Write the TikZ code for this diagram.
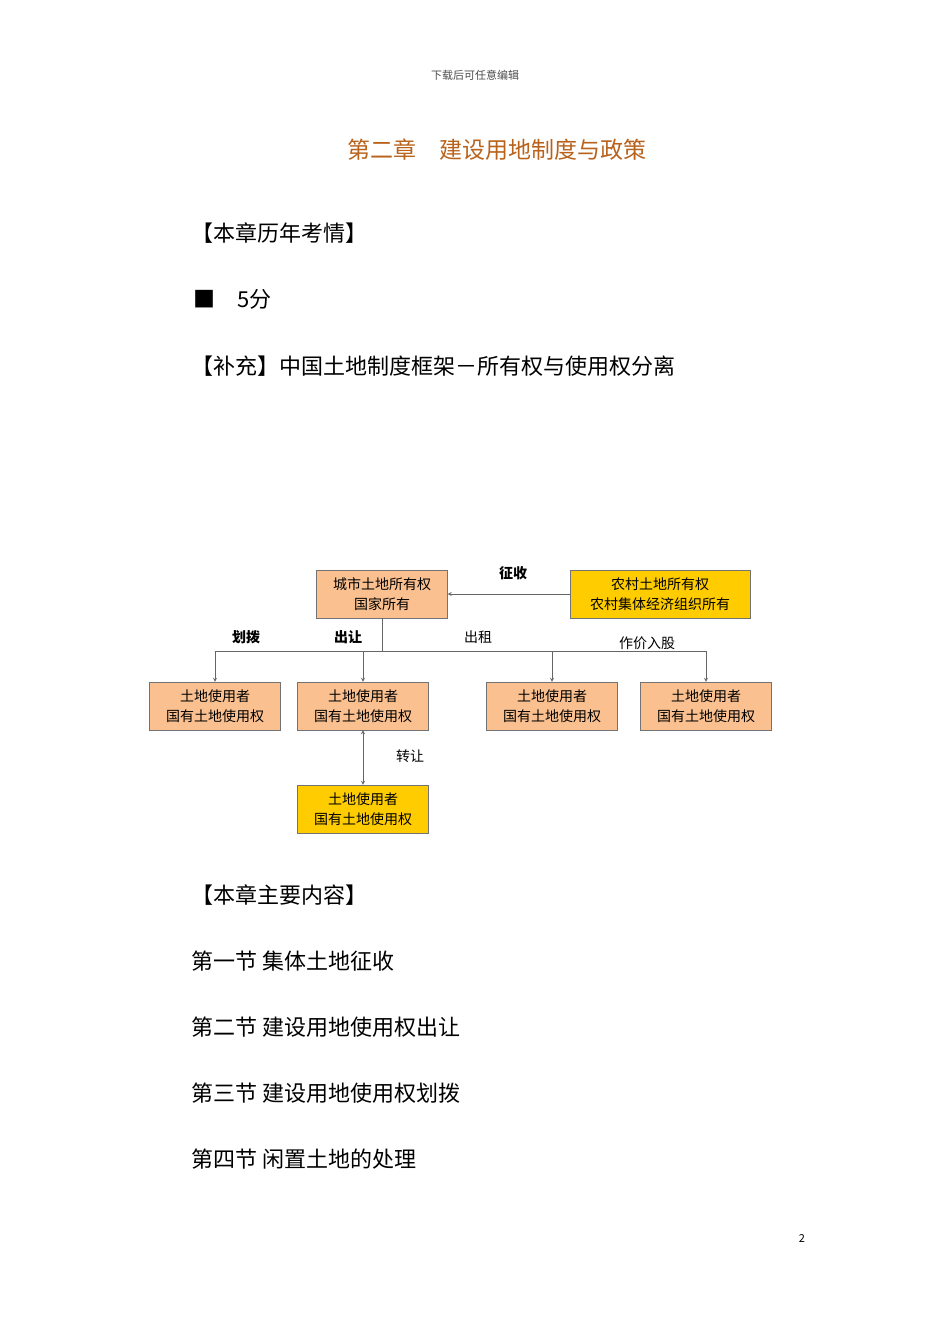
\documentclass[tikz,border=0pt]{standalone}
\usepackage{fontspec}
\setmainfont{Noto Sans CJK SC}
\newfontfamily\cjk{Noto Sans CJK SC}
\definecolor{boxo}{HTML}{FAC090}
\definecolor{boxy}{HTML}{FFCC00}
\definecolor{titlec}{HTML}{B8621B}
\begin{document}
\begin{tikzpicture}[x=1pt,y=-1pt,
  bx/.style={draw=black!55,fill=boxo,minimum width=131pt,minimum height=48pt,align=center,font=\fontsize{14}{20}\selectfont,inner sep=0pt},
  by/.style={bx,fill=boxy},
  lab/.style={font=\fontsize{14}{16}\selectfont},
  ln/.style={draw=black!60,line width=0.8pt},
  body/.style={anchor=west,font=\fontsize{22}{26}\selectfont}]
\useasboundingbox (0,0) rectangle (950,1344);
\node[font=\fontsize{11}{13}\selectfont,text=black!70] (hdr) at (475,75) {下载后可任意编辑};
\node[font=\fontsize{23}{27}\selectfont,text=titlec] (ttl) at (497,150) {第二章\quad 建设用地制度与政策};
\node[body] (t1) at (188,233) {【本章历年考情】};
\node[body] (t2) at (190,299) {■\quad 5分};
\node[body] (t3) at (188,366) {【补充】中国土地制度框架－所有权与使用权分离};
\node[body] (t4) at (188,895) {【本章主要内容】};
\node[body] (t5) at (188,961) {第一节\ 集体土地征收};
\node[body] (t6) at (188,1027) {第二节\ 建设用地使用权出让};
\node[body] (t7) at (188,1093) {第三节\ 建设用地使用权划拨};
\node[body] (t8) at (188,1159) {第四节\ 闲置土地的处理};
\node[font=\fontsize{11}{13}\selectfont] (pg) at (802,1238) {2};

\node[bx] (top) at (382,594) {城市土地所有权\\国家所有};
\node[by,minimum width=180pt] (rur) at (660,594) {农村土地所有权\\农村集体经济组织所有};
\node[bx] (u1) at (215,706) {土地使用者\\国有土地使用权};
\node[bx] (u2) at (363,706) {土地使用者\\国有土地使用权};
\node[bx] (u3) at (552,706) {土地使用者\\国有土地使用权};
\node[bx] (u4) at (706,706) {土地使用者\\国有土地使用权};
\node[by] (u5) at (363,809) {土地使用者\\国有土地使用权};
\coordinate (j) at (382,651);
\draw[ln,-stealth] (rur) -- (top);
\draw[ln] (top) -- (j);
\draw[ln,-stealth] (j) -| (u1);
\draw[ln,-stealth] (j) -| (u2);
\draw[ln,-stealth] (j) -| (u3);
\draw[ln,-stealth] (j) -| (u4);
\draw[ln,stealth-stealth] (u2) -- (u5);
\node[lab,font=\bfseries\fontsize{14}{16}\selectfont] (l1) at (246,637) {划拨};
\node[lab,font=\bfseries\fontsize{14}{16}\selectfont] (l2) at (348,637) {出让};
\node[lab] (l3) at (478,637) {出租};
\node[lab] (l4) at (647,643) {作价入股};
\node[lab,font=\bfseries\fontsize{14}{16}\selectfont] (l5) at (513,573) {征收};
\node[lab] (l6) at (410,756) {转让};
\end{tikzpicture}
\end{document}
